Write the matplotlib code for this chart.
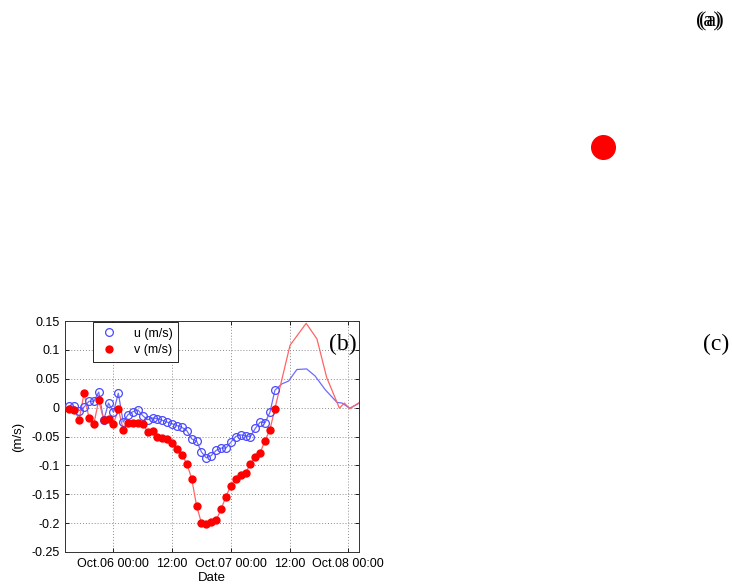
import matplotlib
matplotlib.use("Agg")
import matplotlib.pyplot as plt

# hours since Oct.06 00:00, hourly samples with markers
hours = list(range(-9, 34))
u_obs = [0.003, 0.002, -0.005, 0.001, 0.011, 0.011, 0.027, -0.022, 0.008, -0.008,
         0.025, -0.025, -0.012, -0.007, -0.004, -0.014, -0.021, -0.018, -0.019, -0.022,
         -0.025, -0.028, -0.031, -0.034, -0.040, -0.054, -0.058, -0.077, -0.087, -0.083,
         -0.074, -0.070, -0.070, -0.060, -0.050, -0.047, -0.049, -0.050, -0.036, -0.025,
         -0.026, -0.008, 0.030]
v_obs = [-0.002, -0.004, -0.021, 0.025, -0.018, -0.028, 0.013, -0.021, -0.020, -0.028,
         -0.003, -0.038, -0.027, -0.027, -0.027, -0.028, -0.042, -0.041, -0.051, -0.053,
         -0.055, -0.061, -0.071, -0.082, -0.097, -0.123, -0.170, -0.200, -0.201, -0.198,
         -0.195, -0.176, -0.154, -0.135, -0.123, -0.116, -0.114, -0.097, -0.086, -0.078,
         -0.057, -0.038, -0.002]

# continuation without markers
u_tail_hours = [34.4, 35.8, 37.5, 39.5, 41.2, 43.3, 45.7, 46.7, 48.3, 50.3]
u_tail = [0.041, 0.046, 0.066, 0.067, 0.055, 0.031, 0.009, 0.008, -0.001, 0.008]
v_tail_hours = [36.1, 39.4, 41.6, 43.6, 46.2, 47.2, 48.3, 50.3]
v_tail = [0.108, 0.146, 0.119, 0.052, -0.001, 0.008, -0.002, 0.009]

xticks = [0, 12, 24, 36, 48]
xticklabels = ["Oct.06 00:00", "12:00", "Oct.07 00:00", "12:00", "Oct.08 00:00"]
yticks = [0.15, 0.1, 0.05, 0, -0.05, -0.1, -0.15, -0.2, -0.25]
yticklabels = ["0.15", "0.1", "0.05", "0", "-0.05", "-0.1", "-0.15", "-0.2", "-0.25"]

sans = ["Liberation Sans", "DejaVu Sans"]
serif = ["Liberation Serif", "DejaVu Serif"]

fig = plt.figure(figsize=(7.32, 5.88), dpi=100)

# panel (b)
ax = fig.add_axes([65 / 732, 1 - 552 / 588, (359 - 65) / 732, (552 - 321) / 588])
ax.plot(hours + u_tail_hours, u_obs + u_tail, color="#6b6bff", lw=0.9, zorder=2)
ax.plot(hours + v_tail_hours, v_obs + v_tail, color="#ff6464", lw=0.9, zorder=2)
ax.plot(hours, u_obs, ls="none", marker="o", ms=5.6, mfc="none", mec="#4a4aff",
        mew=0.9, label="u (m/s)", zorder=3)
ax.plot(hours, v_obs, ls="none", marker="o", ms=5.0, mfc="#ff0000", mec="#ff0000",
        label="v (m/s)", zorder=3)

ax.set_xlim(-9.9, 50.2)
ax.set_ylim(-0.25, 0.15)
ax.set_xticks(xticks)
ax.set_xticklabels(xticklabels, fontsize=9, family=sans)
ax.set_yticks(yticks)
ax.set_yticklabels(yticklabels, fontsize=9, family=sans)
ax.tick_params(direction="in", length=3, width=0.6, pad=4, top=True, right=True)
ax.grid(True, ls=(0, (1, 2)), color="#8c8c8c", lw=0.7)
for s in ax.spines.values():
    s.set_linewidth(0.7)
    s.set_color("#333333")
ax.set_xlabel("Date", fontsize=9.5, family=sans, labelpad=2)
ax.set_ylabel("(m/s)", fontsize=9.5, family=sans, labelpad=5)

leg = ax.legend(loc="upper left", bbox_to_anchor=(93 / 732, 1 - 322 / 588),
                bbox_transform=fig.transFigure, prop={"family": sans, "size": 9},
                fancybox=False, edgecolor="black", framealpha=1, borderaxespad=0,
                handletextpad=1.2, borderpad=0.45, labelspacing=0.35, handlelength=1.6)
leg.get_frame().set_linewidth(0.6)

fig.text(343 / 732, 1 - 344 / 588, "(b)", family=serif, fontsize=17,
         ha="center", va="center")
fig.text(716 / 732, 1 - 344 / 588, "(c)", family=serif, fontsize=17,
         ha="center", va="center")

# panel (a): only a single marker is visible
ax_a = fig.add_axes([0.5, 0.55, 0.45, 0.4])
ax_a.axis("off")
ax_a.set_xlim(0, 1)
ax_a.set_ylim(0, 1)
a_x = [(603 / 732 - 0.5) / 0.45]
a_y = [(1 - 147 / 588 - 0.55) / 0.4]
ax_a.plot(a_x, a_y, ls="none", marker="o", ms=17, color="#ff0000")
# the reference shows the (a) label printed twice, slightly shifted
fig.text(708 / 732, 1 - 22 / 588, "(a)", family=serif, fontsize=16,
         ha="center", va="center")
fig.text(711 / 732, 1 - 22 / 588, "(a)", family=serif, fontsize=16,
         ha="center", va="center")

fig.savefig("out.png", dpi=100)
